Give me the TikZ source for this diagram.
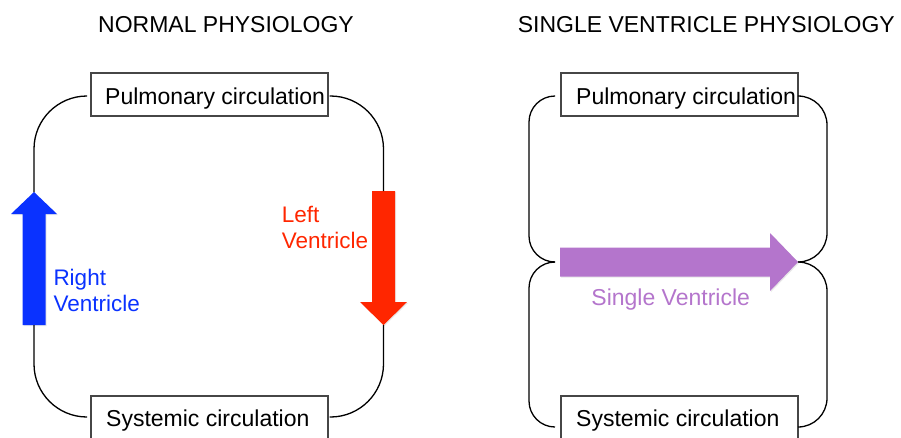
\documentclass[tikz,border=0pt]{standalone}
\usepackage{fontspec}
\setmainfont{Liberation Sans}
\usetikzlibrary{shadows}
\definecolor{rvblue}{RGB}{10,50,255}
\definecolor{lvred}{RGB}{255,38,0}
\definecolor{svpurple}{RGB}{180,117,204}
\definecolor{boxline}{RGB}{70,70,70}
\begin{document}
\begin{tikzpicture}[x=1pt,y=-1pt,
  txt/.style={font=\fontsize{23}{24}\selectfont, inner sep=0pt},
  lbl/.style={font=\fontsize{22.5}{25.5}\selectfont, inner sep=0pt, align=left, anchor=north west},
  circbox/.style={draw=boxline, line width=1.1pt, fill=white,
    minimum width=237pt, minimum height=43pt, inner sep=0pt},
  vessel/.style={draw=black, line width=1.3pt},
  pump/.style={drop shadow={opacity=0.18, shadow xshift=1pt, shadow yshift=-1pt}}
]
\useasboundingbox (0,0) rectangle (901,437);

% ---------- titles ----------
\node[txt, anchor=base] (titleN) at (226,32.3) {NORMAL PHYSIOLOGY};
\node[txt, anchor=base] (titleS) at (706.3,32.3) {SINGLE VENTRICLE PHYSIOLOGY};

% ---------- normal circulation ----------
\node[circbox] (pulL) at (209.5,94.5) {};
\node[circbox] (sysL) at (209.5,417.5) {};
\node[txt, anchor=base west] (pulLt) at (105,104.3) {Pulmonary circulation};
\node[txt, anchor=base west] (sysLt) at (106,426) {Systemic circulation};

% right ventricle (pumps upward)
\coordinate (rvTip) at (34,192);
\coordinate (rvTail) at (34,325);
\fill[rvblue, pump] (22.5,325) -- (22.5,214) -- (11,214) -- (rvTip)
  -- (57,214) -- (45.5,214) -- (45.5,325) -- cycle;
% left ventricle (pumps downward)
\coordinate (lvTop) at (383.5,191);
\coordinate (lvTip) at (383.5,325);
\fill[lvred, pump] (372,191) -- (395,191) -- (395,302) -- (407,302)
  -- (lvTip) -- (360,302) -- (372,302) -- cycle;

\draw[vessel, rounded corners=53pt] ([xshift=-4pt,yshift=-1.5pt]pulL.west) -| (rvTip);
\draw[vessel, rounded corners=53pt] ([xshift=1pt,yshift=-1.5pt]pulL.east) -| (lvTop);
\draw[vessel, rounded corners=53pt] (rvTail) |- ([xshift=-4pt,yshift=0.5pt]sysL.west);
\draw[vessel, rounded corners=53pt] (lvTip) |- ([xshift=1pt,yshift=0.5pt]sysL.east);

\node[lbl, text=lvred] (lvLabel) at (281.7,206.4) {Left\\Ventricle};
\node[lbl, text=rvblue] (rvLabel) at (53.3,269) {Right\\Ventricle};

% ---------- single ventricle circulation ----------
\node[circbox] (pulR) at (679.5,94.5) {};
\node[circbox] (sysR) at (679.5,417.5) {};
\node[txt, anchor=base west] (pulRt) at (576,104.3) {Pulmonary circulation};
\node[txt, anchor=base west] (sysRt) at (576,426) {Systemic circulation};

\coordinate (svTail) at (555,262);
\coordinate (svTip) at (798,262);
\coordinate (sysRin) at (555,427);
\coordinate (sysRout) at (798,427);

\draw[vessel, rounded corners=26pt] ([xshift=-6pt,yshift=-1.5pt]pulR.west) -| (529,262) -- (svTail);
\draw[vessel, rounded corners=26pt] (svTail) -| (529,427) -- (sysRin);
\draw[vessel, rounded corners=29pt] ([yshift=-1.5pt]pulR.east) -| (827,262) -- (svTip);
\draw[vessel, rounded corners=29pt] (svTip) -| (827,427) -- (sysRout);

\fill[svpurple, pump] (560,247.5) -- (770,247.5) -- (770,233) -- (svTip)
  -- (770,291) -- (770,276.5) -- (560,276.5) -- cycle;

\node[txt, text=svpurple, anchor=base] (svLabel) at (670.7,305) {Single Ventricle};
\end{tikzpicture}
\end{document}
